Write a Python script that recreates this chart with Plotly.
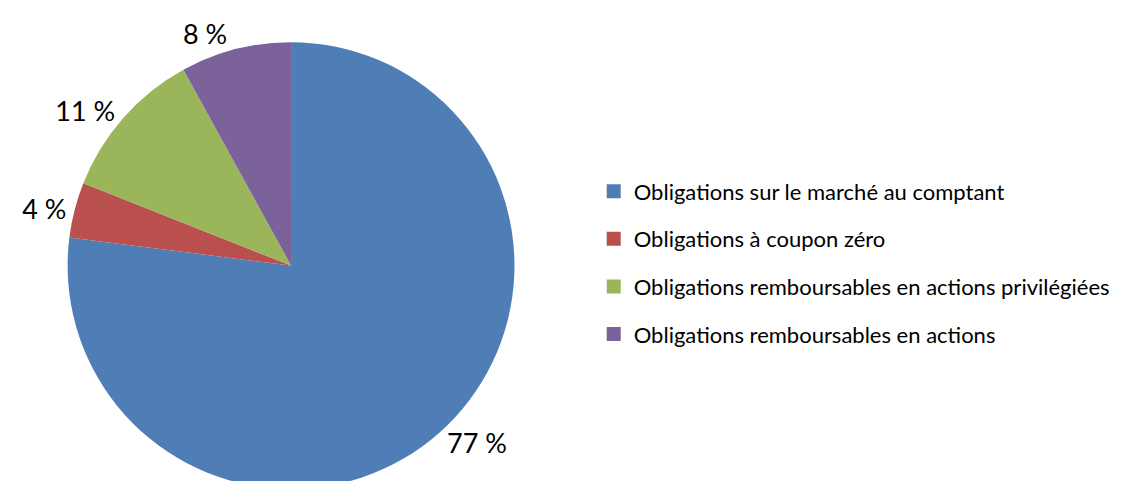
import plotly.graph_objects as go

categories = [
    "Obligations sur le marché au comptant",
    "Obligations à coupon zéro",
    "Obligations remboursables en actions privilégiées",
    "Obligations remboursables en actions",
]
shares = [77, 4, 11, 8]
colors = ['#4F7DB5', '#BA504D', '#9BB55B', '#7C629B']

labels_text = [f"{v} %" for v in shares]

fig = go.Figure()

fig.add_trace(go.Pie(
    labels=categories,
    values=shares,
    text=labels_text,
    texttemplate='%{text}',
    textposition='outside',
    automargin=False,
    textfont=dict(family='Lato', size=27, color='black'),
    marker=dict(colors=colors, line=dict(width=0)),
    sort=False,
    direction='clockwise',
    rotation=0,
    showlegend=False,
    hoverinfo='label+percent',
    domain=dict(x=[0.0525, 0.4525], y=[0, 0.929]),
))

# legend entries as separate groups so the spacing can be opened up
for name, c in zip(categories, colors):
    fig.add_trace(go.Scatter(
        x=[None], y=[None],
        mode='markers',
        name=name,
        legendgroup=name,
        marker=dict(symbol='square', size=14, color=c),
    ))

fig.update_xaxes(visible=False)
fig.update_yaxes(visible=False)

fig.update_layout(
    width=1121,
    height=481,
    margin=dict(l=0, r=0, t=0, b=0),
    plot_bgcolor='white',
    paper_bgcolor='white',
    showlegend=True,
    legend=dict(
        x=0.5225,
        xanchor='left',
        y=0.47,
        yanchor='middle',
        font=dict(family='Lato', size=22, color='black'),
        tracegroupgap=16,
        bgcolor='rgba(0,0,0,0)',
    ),
)

fig.write_html("out.html")
